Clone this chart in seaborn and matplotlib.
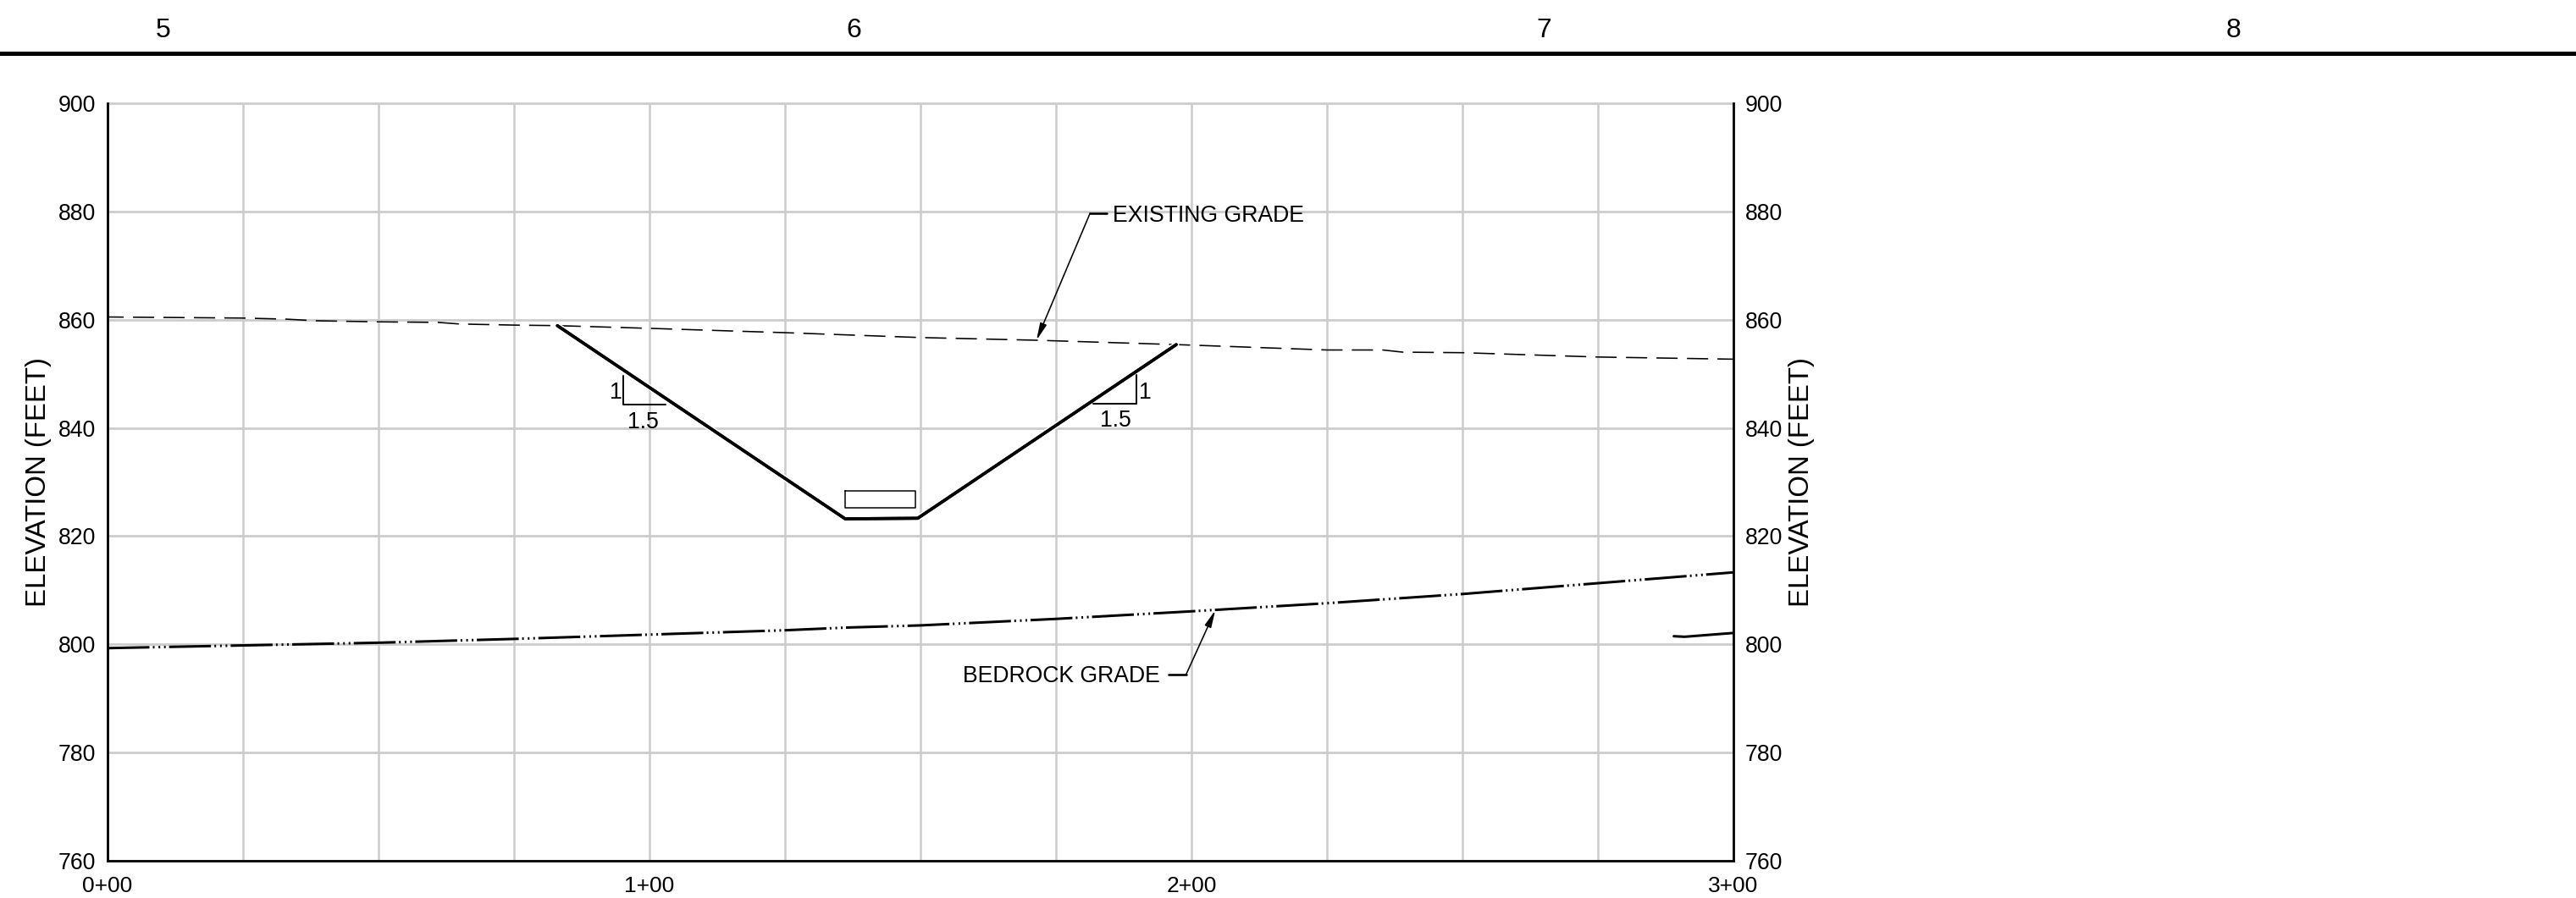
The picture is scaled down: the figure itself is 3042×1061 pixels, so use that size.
import matplotlib
matplotlib.use("Agg")
import matplotlib.pyplot as plt
import matplotlib.patheffects as pe
import seaborn as sns

# station (ft) / elevation (ft)
existing_x = [0, 25, 33, 38.5, 50, 61, 65, 75, 83, 100, 125, 150, 171.5, 197, 200, 225, 235.3, 239, 250, 275, 300]
existing_y = [860.5, 860.3, 860.1, 859.8, 859.6, 859.5, 859.2, 859.0, 858.9, 858.4, 857.6, 856.7, 856.2, 855.4, 855.3, 854.4, 854.4, 854.0, 853.9, 853.1, 852.7]

bedrock_x = [0, 25, 50, 75, 100, 125, 136.4, 150, 175, 200, 225, 250, 275, 300]
bedrock_y = [799.3, 799.8, 800.3, 801.0, 801.8, 802.6, 803.1, 803.5, 804.7, 806.1, 807.6, 809.3, 811.3, 813.3]

bedrock2_x = [289, 291, 300]
bedrock2_y = [801.5, 801.4, 802.1]

cut_x = [83, 136.1, 149.5, 197.2]
cut_y = [858.9, 823.2, 823.3, 855.4]

box_x = [136.1, 149.1, 149.1, 136.1, 136.1]
box_y = [828.3, 828.3, 825.3, 825.3, 828.3]

slope_left_x = [95.1, 95.1, 103]
slope_left_y = [849.6, 844.3, 844.3]
slope_right_x = [181.8, 189.8, 189.8]
slope_right_y = [844.5, 844.5, 849.8]

existing_tip = (171.4, 856.2)
existing_elbow = (181.3, 879.7)
existing_end = (184.4, 879.7)
existing_label = (185.5, 879.2)

bedrock_tip = (204.4, 806.3)
bedrock_elbow = (199, 794.4)
bedrock_end = (195.8, 794.4)
bedrock_label = (194.2, 794.1)

slope_texts = [(93.8, 846.5, "1"), (98.8, 841.1, "1.5"), (191.4, 846.5, "1"), (186, 841.4, "1.5")]

sections = [5, 6, 7, 8]
section_breaks = [5.5, 6.5, 7.5]
y_ticks = [760, 780, 800, 820, 840, 860, 880, 900]
x_major = [0, 100, 200, 300]
x_labels = ["0+00", "1+00", "2+00", "3+00"]
x_minor = [25, 50, 75, 125, 150, 175, 225, 250, 275]

W, H = 3042, 1061
px = 0.72  # one pixel in points at dpi 100

sns.set_theme(style="white")
plt.rcParams["font.family"] = ["Liberation Sans", "DejaVu Sans"]
plt.rcParams["lines.scale_dashes"] = False
plt.rcParams["text.color"] = "black"

fig = plt.figure(figsize=(W / 100, H / 100), dpi=100, facecolor="white")
ax = fig.add_axes([127 / W, (H - 1017) / H, 1920 / W, 895 / H])

# grid first, profile on top
ax.set_xlim(0, 300)
ax.set_ylim(760, 900)
ax.set_xticks(x_major)
ax.set_xticklabels(x_labels)
ax.set_xticks(x_minor, minor=True)
ax.set_yticks(y_ticks)
ax.grid(True, axis="x", which="both", color="#cccccc", linewidth=2.6 * px)
ax.grid(True, axis="y", which="major", color="#cccccc", linewidth=2.8 * px)
ax.set_axisbelow(True)
for gl in ax.get_ygridlines():
    gl.set_clip_on(False)
ax.tick_params(axis="both", which="both", length=0, labelsize=19.2, labelcolor="black")
ax.tick_params(axis="x", pad=13, labelsize=19)
ax.tick_params(axis="y", pad=10)
ax.set_xlabel("")
ax.set_ylabel("ELEVATION (FEET)", fontsize=23.7, color="black")
ax.yaxis.set_label_coords(-0.0346, 0.5)

ax.spines["top"].set_visible(False)
for side in ["left", "right", "bottom"]:
    ax.spines[side].set_visible(True)
    ax.spines[side].set_color("black")
    ax.spines[side].set_linewidth(2.8 * px)

ax2 = ax.twinx()
ax2.set_ylim(760, 900)
ax2.set_yticks(y_ticks)
ax2.grid(False)
ax2.tick_params(axis="y", length=0, labelsize=19.2, labelcolor="black", pad=10)
ax2.set_ylabel("ELEVATION (FEET)", fontsize=23.7, color="black")
ax2.yaxis.set_label_coords(1.034, 0.5)
for s in ax2.spines.values():
    s.set_visible(False)

sns.lineplot(x=existing_x, y=existing_y, ax=ax, color="black", linewidth=1.6 * px, sort=False,
             estimator=None, linestyle=(6 * px, (25 * px, 11 * px)))
sns.lineplot(x=bedrock_x, y=bedrock_y, ax=ax, color="black", linewidth=3 * px, sort=False, estimator=None,
             linestyle=(0, (49.5 * px, 4 * px, 2 * px, 4.7 * px, 2 * px, 4.5 * px, 2 * px, 4 * px)))
sns.lineplot(x=bedrock2_x, y=bedrock2_y, ax=ax, color="black", linewidth=3 * px, sort=False, estimator=None)

cut = sns.lineplot(x=cut_x, y=cut_y, ax=ax, color="black", linewidth=3.6 * px, sort=False, estimator=None)
cut.lines[-1].set_path_effects([pe.withStroke(linewidth=7 * px, foreground="white"), pe.Normal()])
sns.lineplot(x=box_x, y=box_y, ax=ax, color="black", linewidth=1.5 * px, sort=False, estimator=None)
sns.lineplot(x=slope_left_x, y=slope_left_y, ax=ax, color="black", linewidth=2 * px, sort=False, estimator=None)
sns.lineplot(x=slope_right_x, y=slope_right_y, ax=ax, color="black", linewidth=2 * px, sort=False, estimator=None)

for x, y, s in slope_texts:
    ax.text(x, y, s, fontsize=19.2, ha="center", va="center", color="black")

# callouts
for tip, elbow, end in [(existing_tip, existing_elbow, existing_end), (bedrock_tip, bedrock_elbow, bedrock_end)]:
    ax.annotate("", xy=tip, xytext=elbow,
                arrowprops=dict(arrowstyle="-|>,head_length=1.0,head_width=0.2", color="black",
                                linewidth=1.6 * px, shrinkA=0, shrinkB=0))
    sns.lineplot(x=[elbow[0], end[0]], y=[elbow[1], end[1]], ax=ax, color="black", linewidth=2.6 * px,
                 sort=False, estimator=None)
ax.text(existing_label[0], existing_label[1], "EXISTING GRADE", fontsize=19.2, ha="left", va="center", color="black")
ax.text(bedrock_label[0], bedrock_label[1], "BEDROCK GRADE", fontsize=19.2, ha="right", va="center", color="black")

# section strip across the top
top = fig.add_axes([0, (H - 63) / H, 1, 63 / H])
top.set_facecolor("none")
top.set_xlim(5 - 193 / 815, 5 - 193 / 815 + W / 815)
top.set_ylim(0, 1)
top.set_yticks([])
top.set_xticks(section_breaks)
top.set_xticklabels([])
top.tick_params(axis="x", direction="in", length=28 * px, width=1.2 * px, color="#444444")
sns.despine(ax=top, left=True, right=True, top=True)
top.spines["bottom"].set_color("black")
top.spines["bottom"].set_linewidth(5 * px)
top.grid(False)
for s in sections:
    top.text(s, 0.43, str(s), fontsize=23, ha="center", va="center", color="black")

fig.savefig("out.png", dpi=100)
